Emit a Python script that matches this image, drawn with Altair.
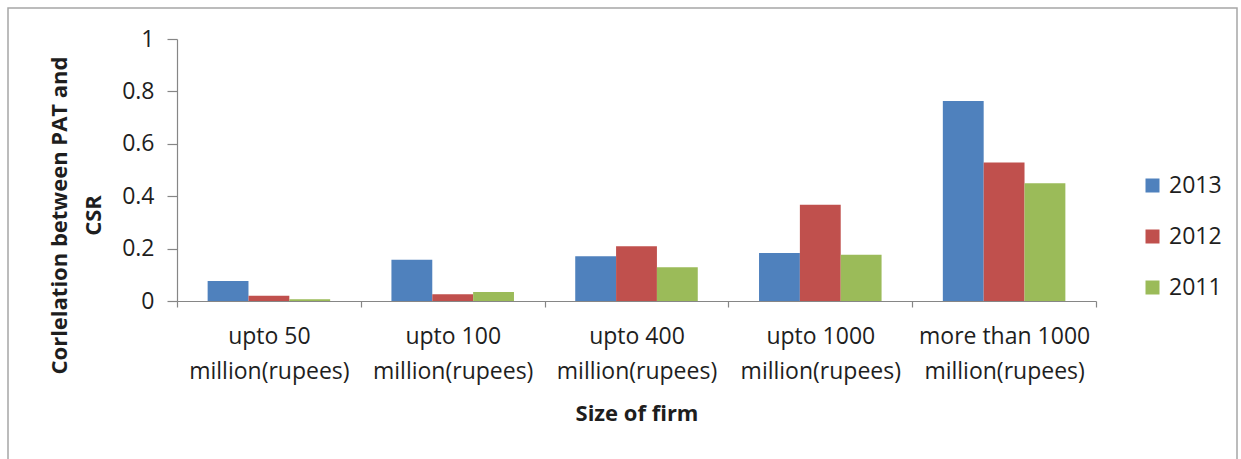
import altair as alt
import pandas as pd

# Firm-size bands (two-line axis labels) and the yearly correlation series
categories = [
    "upto 50\nmillion(rupees)",
    "upto 100\nmillion(rupees)",
    "upto 400\nmillion(rupees)",
    "upto 1000\nmillion(rupees)",
    "more than 1000\nmillion(rupees)",
]
years = ["2013", "2012", "2011"]
corr_2013 = [0.076, 0.157, 0.171, 0.183, 0.763]
corr_2012 = [0.020, 0.026, 0.209, 0.367, 0.529]
corr_2011 = [0.007, 0.034, 0.129, 0.177, 0.449]
year_colors = ["#4F81BD", "#C0504D", "#9BBB59"]
y_ticks = [0, 0.2, 0.4, 0.6, 0.8, 1]

rows = []
for year, series in zip(years, [corr_2013, corr_2012, corr_2011]):
    for cat, val in zip(categories, series):
        rows.append({"size": cat, "year": year, "corr": val})
df = pd.DataFrame(rows)

FONT = "Open Sans"
TEXT = "#1e1e1e"
AXIS = "#868686"

bars = alt.Chart(df).mark_bar().encode(
    x=alt.X(
        "size:N",
        sort=categories,
        scale=alt.Scale(paddingInner=0, paddingOuter=0),
        axis=alt.Axis(
            title="Size of firm",
            labelAngle=0,
            tickBand="extent",
            labelExpr="split(datum.label, '\\n')",
            labelLineHeight=35,
            labelPadding=18,
            labelLimit=300,
            labelFontSize=23,
            tickSize=6,
            titleFontSize=22,
            titlePadding=20,
        ),
    ),
    xOffset=alt.XOffset(
        "year:N",
        sort=years,
        scale=alt.Scale(paddingInner=0, paddingOuter=0.75),
    ),
    y=alt.Y(
        "corr:Q",
        scale=alt.Scale(domain=[0, 1], nice=False),
        axis=alt.Axis(
            values=y_ticks,
            format="~g",
            grid=False,
            tickSize=10,
            labelPadding=13,
            labelFontSize=23,
            title=["Corlelation between PAT and", "CSR"],
            titleFontSize=22,
            titleLineHeight=34,
            titleY=176,
            titlePadding=16,
        ),
    ),
    color=alt.Color(
        "year:N",
        sort=years,
        scale=alt.Scale(domain=years, range=year_colors),
        legend=alt.Legend(
            orient="none",
            legendX=964,
            legendY=135,
            title=None,
            symbolType="square",
            symbolSize=196,
            symbolStrokeWidth=0,
            labelFontSize=23,
            labelOffset=5,
            rowPadding=27,
        ),
    ),
)

# light grey border around the whole chart area
frame = alt.Chart(alt.Data(values=[{}])).mark_rect(
    fill="transparent", stroke="#a6a6a6", strokeWidth=1.5
).encode(
    x=alt.value(-169),
    x2=alt.value(1060),
    y=alt.value(-31),
    y2=alt.value(440),
)

chart = (
    alt.layer(frame, bars)
    .properties(
        width=919,
        height=262,
        autosize=alt.AutoSizeParams(type="none"),
        padding={"left": 177, "top": 39, "right": 145, "bottom": 158},
        background="white",
    )
    .configure_view(strokeWidth=0)
    .configure_axis(
        labelFont=FONT,
        titleFont=FONT,
        labelColor=TEXT,
        titleColor=TEXT,
        titleFontWeight="bold",
        domainColor=AXIS,
        tickColor=AXIS,
        domainWidth=1.2,
        tickWidth=1.2,
    )
    .configure_legend(labelFont=FONT, labelColor=TEXT)
)

chart.save("out.html", embed_options={"renderer": "svg", "actions": False})
